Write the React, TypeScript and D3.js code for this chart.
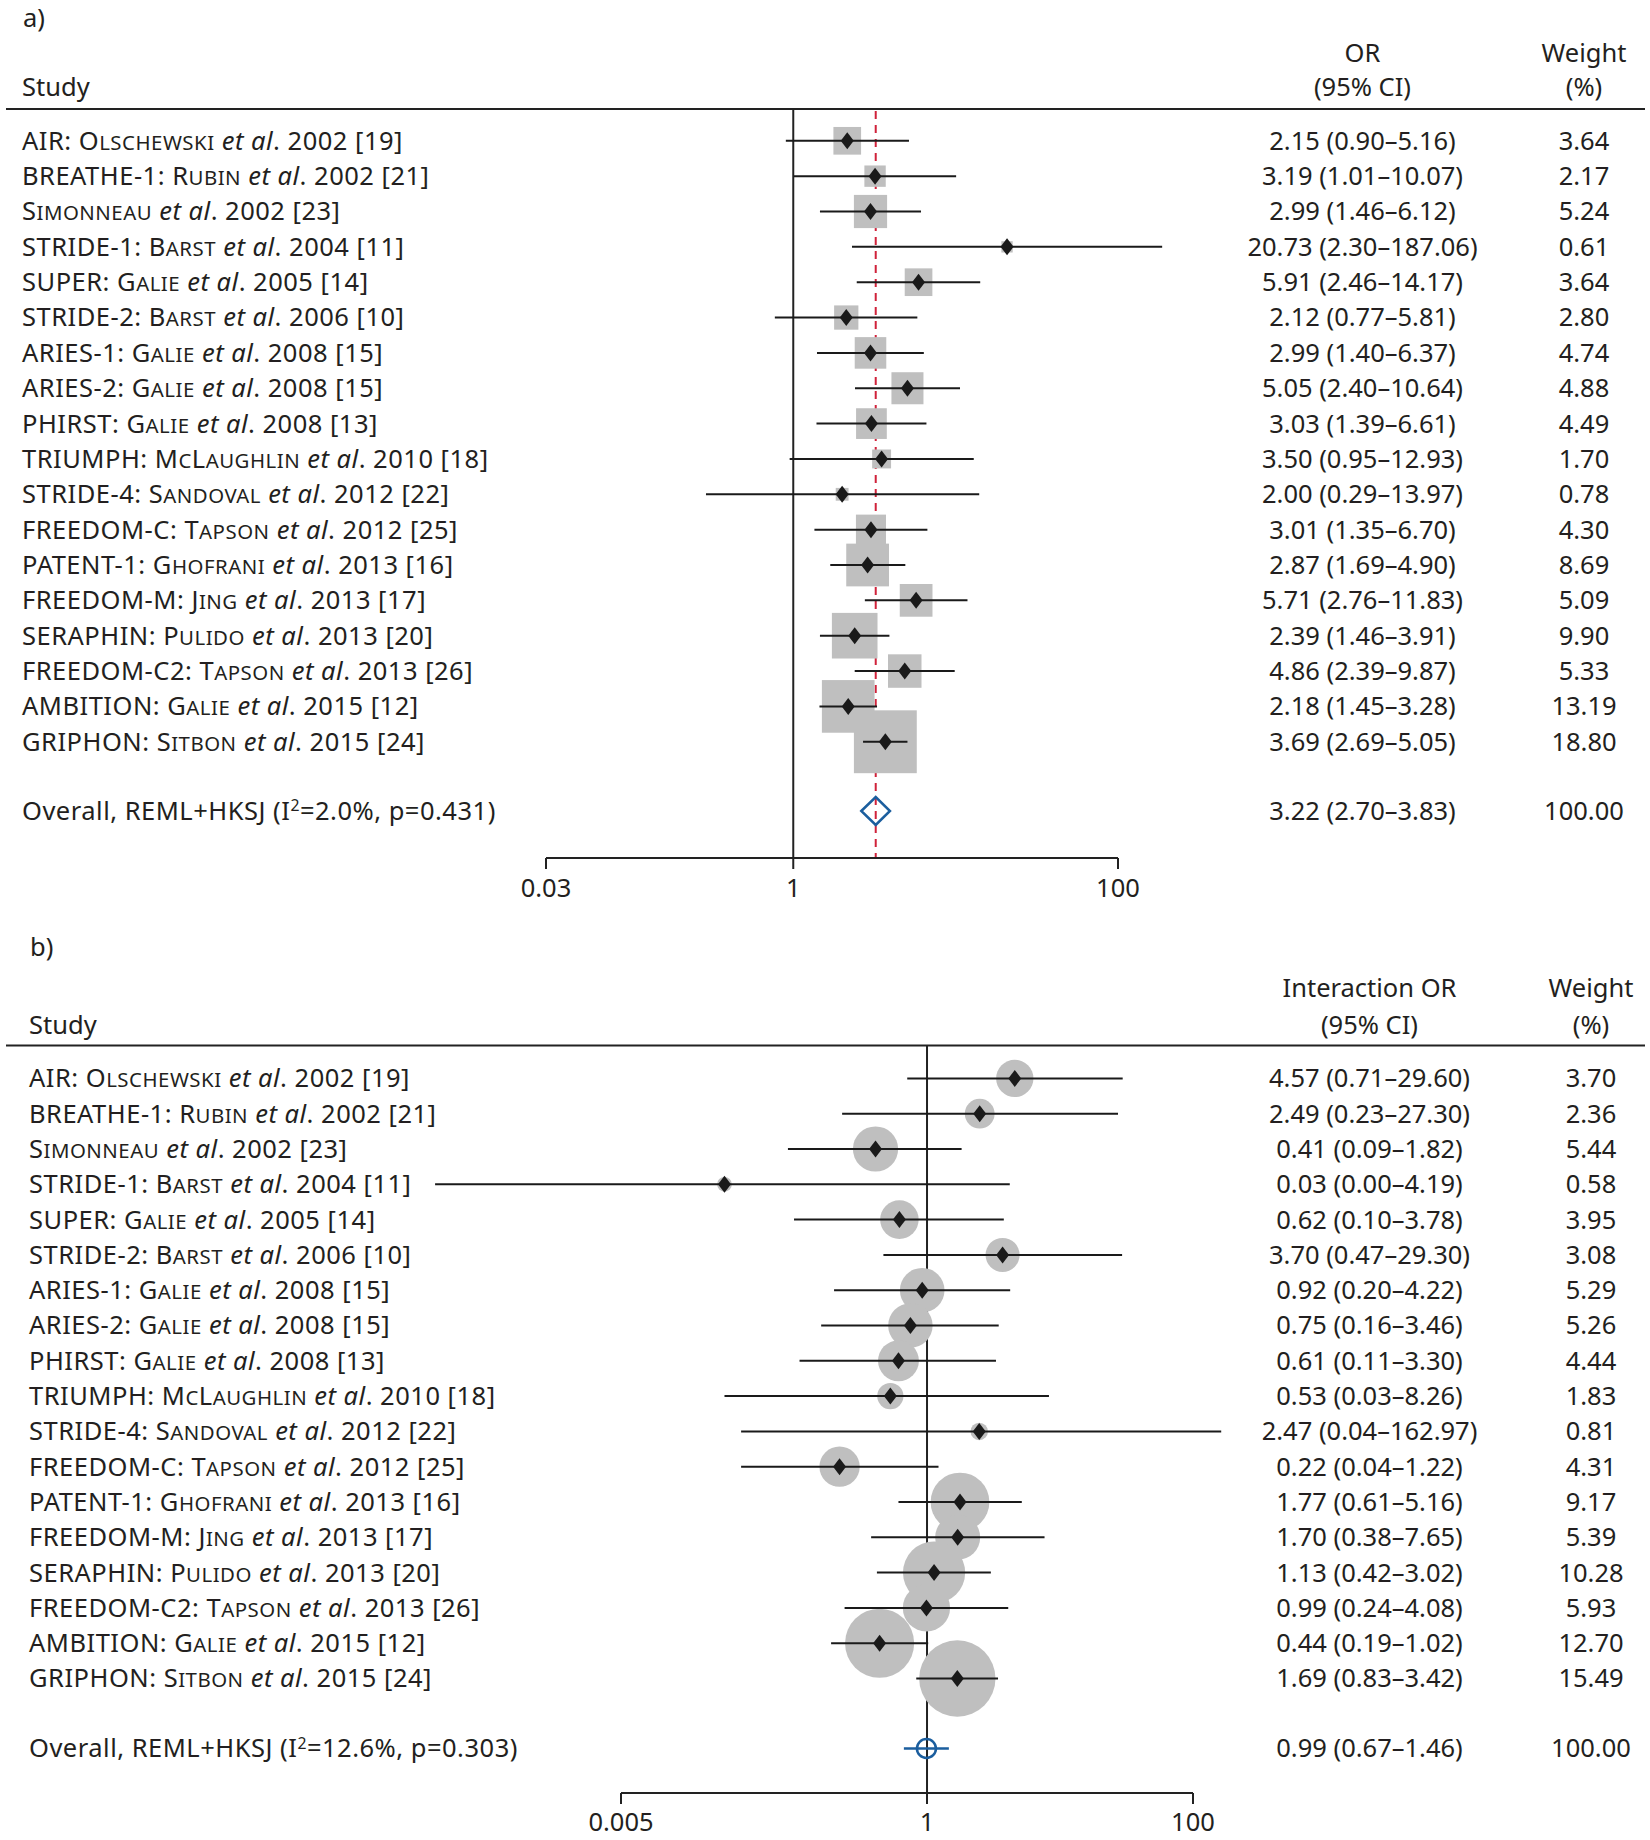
import React, { useEffect } from "react";
import * as d3 from "d3";

// ---------- data ----------
const studyPrefixes = [
  "AIR: ", "BREATHE-1: ", "", "STRIDE-1: ", "SUPER: ", "STRIDE-2: ", "ARIES-1: ", "ARIES-2: ", "PHIRST: ",
  "TRIUMPH: ", "STRIDE-4: ", "FREEDOM-C: ", "PATENT-1: ", "FREEDOM-M: ", "SERAPHIN: ", "FREEDOM-C2: ", "AMBITION: ", "GRIPHON: ",
];
const studyAuthors = [
  "Olschewski", "Rubin", "Simonneau", "Barst", "Galie", "Barst", "Galie", "Galie", "Galie",
  "McLaughlin", "Sandoval", "Tapson", "Ghofrani", "Jing", "Pulido", "Tapson", "Galie", "Sitbon",
];
const studyYears = ["2002", "2002", "2002", "2004", "2005", "2006", "2008", "2008", "2008", "2010", "2012", "2012", "2013", "2013", "2013", "2013", "2015", "2015"];
const studyRefs = ["19", "21", "23", "11", "14", "10", "15", "15", "13", "18", "22", "25", "16", "17", "20", "26", "12", "24"];

// panel a: OR
const orA = [2.15, 3.19, 2.99, 20.73, 5.91, 2.12, 2.99, 5.05, 3.03, 3.5, 2.0, 3.01, 2.87, 5.71, 2.39, 4.86, 2.18, 3.69];
const loA = [0.9, 1.01, 1.46, 2.3, 2.46, 0.77, 1.4, 2.4, 1.39, 0.95, 0.29, 1.35, 1.69, 2.76, 1.46, 2.39, 1.45, 2.69];
const hiA = [5.16, 10.07, 6.12, 187.06, 14.17, 5.81, 6.37, 10.64, 6.61, 12.93, 13.97, 6.7, 4.9, 11.83, 3.91, 9.87, 3.28, 5.05];
const wA = [3.64, 2.17, 5.24, 0.61, 3.64, 2.8, 4.74, 4.88, 4.49, 1.7, 0.78, 4.3, 8.69, 5.09, 9.9, 5.33, 13.19, 18.8];
const overallA = [3.22, 2.7, 3.83];
const overallLabelA = ["Overall, REML+HKSJ (I", "2", "=2.0%, p=0.431)"];
const ticksA = [0.03, 1, 100];

// panel b: interaction OR
const orB = [4.57, 2.49, 0.41, 0.03, 0.62, 3.7, 0.92, 0.75, 0.61, 0.53, 2.47, 0.22, 1.77, 1.7, 1.13, 0.99, 0.44, 1.69];
const loB = [0.71, 0.23, 0.09, 0.0002, 0.1, 0.47, 0.2, 0.16, 0.11, 0.03, 0.04, 0.04, 0.61, 0.38, 0.42, 0.24, 0.19, 0.83];
const hiB = [29.6, 27.3, 1.82, 4.19, 3.78, 29.3, 4.22, 3.46, 3.3, 8.26, 162.97, 1.22, 5.16, 7.65, 3.02, 4.08, 1.02, 3.42];
const wB = [3.7, 2.36, 5.44, 0.58, 3.95, 3.08, 5.29, 5.26, 4.44, 1.83, 0.81, 4.31, 9.17, 5.39, 10.28, 5.93, 12.7, 15.49];
const overallB = [0.99, 0.67, 1.46];
const overallLabelB = ["Overall, REML+HKSJ (I", "2", "=12.6%, p=0.303)"];
const ticksB = [0.005, 1, 100];

// ---------- styling ----------
const FONT = "'Noto Sans', 'Open Sans', sans-serif";
const FS = 25.5;
const TXT = "#231f20";
const GREY = "#bfbfbf";
const BLUE = "#1b5e9e";
const RED = "#d0223a";
const LS = 0.5;

// manual small caps: uppercase letters full size, lowercase -> uppercase at reduced size
function SmallCaps({ text }: { text: string }) {
  const runs: { s: string; small: boolean }[] = [];
  for (const ch of text) {
    const small = ch !== ch.toUpperCase();
    const last = runs[runs.length - 1];
    if (last && last.small === small) last.s += ch;
    else runs.push({ s: ch, small });
  }
  return (
    <>
      {runs.map((r, k) =>
        r.small ? (
          <tspan key={k} fontSize={FS * 0.8}>{r.s.toUpperCase()}</tspan>
        ) : (
          <tspan key={k} fontSize={FS}>{r.s}</tspan>
        )
      )}
    </>
  );
}

type PanelProps = {
  tag: string;
  mode: "square" | "circle";
  or: number[]; lo: number[]; hi: number[]; w: number[];
  overall: number[]; overallLabel: string[]; ticks: number[];
  colHeader: string;
  labelX: number;
  xRange: [number, number];
  orColX: number; wColX: number;
  rowY0: number; rowStep: number; ruleY: number; overallY: number; axisY: number;
  headY1: number; headY2: number; tagY: number; tickLabelY: number;
  refLine: boolean;
};

function Panel(p: PanelProps) {
  const x = d3.scaleLog().domain([p.ticks[0], p.ticks[p.ticks.length - 1]]).range(p.xRange);
  const rows = p.or.map((v, i) => ({ i, v, lo: p.lo[i], hi: p.hi[i], w: p.w[i], y: p.rowY0 + i * p.rowStep }));
  const fmt = (n: number) => n.toFixed(2);
  const x1 = x(1);
  const [ov, ovLo, ovHi] = p.overall;
  const dh = 8.5, dw = 6.5;
  const DY = "0.35em";
  return (
    <g fontFamily={FONT} fontSize={FS} fill={TXT}>
      <text x={p.labelX + 1} y={p.tagY}>{p.tag}</text>
      <text x={p.labelX} y={p.headY2}>Study</text>
      <text x={p.orColX} y={p.headY1} textAnchor="middle">{p.colHeader}</text>
      <text x={p.orColX} y={p.headY2} textAnchor="middle">(95% CI)</text>
      <text x={p.wColX} y={p.headY1} textAnchor="middle">Weight</text>
      <text x={p.wColX} y={p.headY2} textAnchor="middle">(%)</text>
      <line x1={6} x2={1645} y1={p.ruleY} y2={p.ruleY} stroke="#222" strokeWidth={2} />

      {/* null line */}
      <line x1={x1} x2={x1} y1={p.ruleY} y2={p.axisY} stroke="#222" strokeWidth={2} />
      {p.refLine && (
        <line x1={x(ov)} x2={x(ov)} y1={p.ruleY + 2} y2={p.axisY} stroke={RED} strokeWidth={2} strokeDasharray="8 6" />
      )}

      {/* weight markers */}
      {rows.map((r) =>
        p.mode === "square" ? (
          <rect key={"m" + r.i} x={x(r.v) - (14.5 * Math.sqrt(r.w)) / 2} y={r.y - (14.5 * Math.sqrt(r.w)) / 2}
            width={14.5 * Math.sqrt(r.w)} height={14.5 * Math.sqrt(r.w)} fill={GREY} />
        ) : (
          <circle key={"m" + r.i} cx={x(r.v)} cy={r.y} r={9.7 * Math.sqrt(r.w)} fill={GREY} />
        )
      )}
      {rows.map((r) => (
        <g key={"c" + r.i}>
          <line x1={x(r.lo)} x2={x(r.hi)} y1={r.y} y2={r.y} stroke="#1a1a1a" strokeWidth={2} />
          <path d={`M${x(r.v)},${r.y - dh}L${x(r.v) + dw},${r.y}L${x(r.v)},${r.y + dh}L${x(r.v) - dw},${r.y}Z`} fill="#1a1a1a" />
        </g>
      ))}

      {/* overall */}
      {p.mode === "square" ? (
        <path d={`M${x(ovLo) - 2},${p.overallY}L${x(ov)},${p.overallY - 14}L${x(ovHi) + 2},${p.overallY}L${x(ov)},${p.overallY + 14}Z`}
          fill="none" stroke={BLUE} strokeWidth={2.5} />
      ) : (
        <g>
          <line x1={x(ovLo)} x2={x(ovHi)} y1={p.overallY} y2={p.overallY} stroke={BLUE} strokeWidth={2.5} />
          <circle cx={x(ov)} cy={p.overallY} r={9.5} fill="none" stroke={BLUE} strokeWidth={2.5} />
        </g>
      )}

      {/* labels */}
      {rows.map((r) => (
        <g key={"t" + r.i}>
          <text x={p.labelX} y={r.y} dy={DY} letterSpacing={LS}>
            {studyPrefixes[r.i]}
            <SmallCaps text={studyAuthors[r.i]} />
            <tspan fontStyle="italic"> et al</tspan>
            {`. ${studyYears[r.i]} [${studyRefs[r.i]}]`}
          </text>
          <text x={p.orColX} y={r.y} dy={DY} textAnchor="middle">
            {`${fmt(r.v)} (${fmt(r.lo)}–${fmt(r.hi)})`}
          </text>
          <text x={p.wColX} y={r.y} dy={DY} textAnchor="middle">{fmt(r.w)}</text>
        </g>
      ))}
      <text x={p.labelX} y={p.overallY} dy={DY} letterSpacing={LS}>
        {p.overallLabel[0]}
        <tspan fontSize={FS * 0.62} dy="-0.55em">{p.overallLabel[1]}</tspan>
        <tspan dy={`${0.55 * 0.62}em`}>{p.overallLabel[2]}</tspan>
      </text>
      <text x={p.orColX} y={p.overallY} dy={DY} textAnchor="middle">
        {`${fmt(ov)} (${fmt(ovLo)}–${fmt(ovHi)})`}
      </text>
      <text x={p.wColX} y={p.overallY} dy={DY} textAnchor="middle">100.00</text>

      {/* axis */}
      <line x1={x(p.ticks[0])} x2={x(p.ticks[p.ticks.length - 1])} y1={p.axisY} y2={p.axisY} stroke="#222" strokeWidth={2} />
      {p.ticks.map((t) => (
        <g key={"k" + t}>
          <line x1={x(t)} x2={x(t)} y1={p.axisY} y2={p.axisY + 11} stroke="#222" strokeWidth={2} />
          <text x={x(t)} y={p.tickLabelY} dy={DY} textAnchor="middle">{String(t)}</text>
        </g>
      ))}
    </g>
  );
}

export default function App() {
  useEffect(() => {
    document.body.style.margin = "0";
  }, []);
  return (
    <svg width={1650} height={1840} style={{ display: "block", background: "#fff" }}>
      <rect width={1650} height={1840} fill="#fff" />
      <Panel tag="a)" mode="square" or={orA} lo={loA} hi={hiA} w={wA} overall={overallA} overallLabel={overallLabelA}
        ticks={ticksA} colHeader="OR" labelX={22} xRange={[546, 1118]} orColX={1362.5} wColX={1584}
        rowY0={140.8} rowStep={35.35} ruleY={109} overallY={811} axisY={858} headY1={62} headY2={96} tagY={27}
        tickLabelY={888} refLine={true} />
      <Panel tag="b)" mode="circle" or={orB} lo={loB} hi={hiB} w={wB} overall={overallB} overallLabel={overallLabelB}
        ticks={ticksB} colHeader="Interaction OR" labelX={29} xRange={[621, 1193]} orColX={1369.5} wColX={1591}
        rowY0={1078.4} rowStep={35.3} ruleY={1045.6} overallY={1748.5} axisY={1793} headY1={997} headY2={1034} tagY={956}
        tickLabelY={1822.5} refLine={false} />
    </svg>
  );
}
